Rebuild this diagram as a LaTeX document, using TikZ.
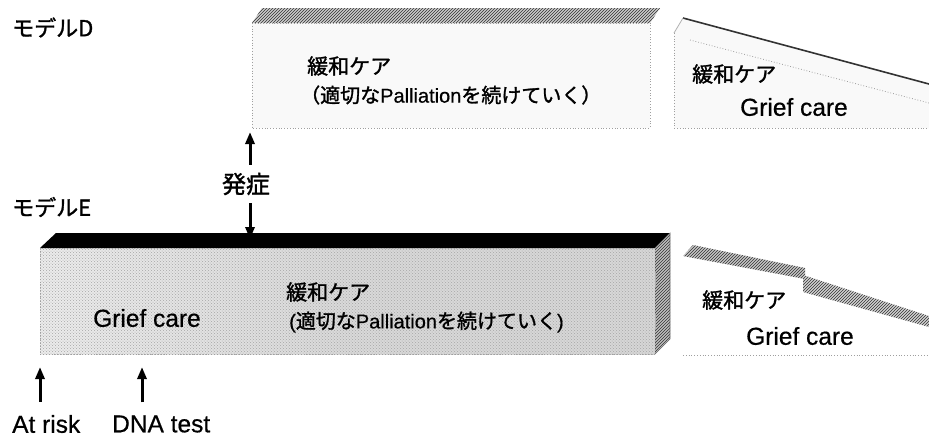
\documentclass[tikz,border=0pt]{standalone}
\usepackage{fontspec}
\setmainfont{Liberation Sans}[FakeBold=0.6]
\newfontfamily\jp{Noto Sans CJK JP}[FakeBold=1.4]
\usetikzlibrary{arrows.meta,patterns}
\begin{document}
\begin{tikzpicture}[x=1pt,y=-1pt,
  jpl/.style={font=\jp\fontsize{21}{21}\selectfont, inner sep=0pt, anchor=west},
  jps/.style={font=\fontsize{20}{20}\selectfont, inner sep=0pt, anchor=west},
  enl/.style={font=\fontsize{24.5}{24.5}\selectfont, inner sep=0pt, anchor=west},
  arr/.style={line width=3pt,-{Triangle[length=12pt,width=9pt]}},
  dotedge/.style={draw=gray!75,dotted,line width=0.8pt},
  stipple/.style={pattern=crosshatch dots, pattern color=gray!70},
  hatch/.style={pattern=north east lines, pattern color=black!80}]
\useasboundingbox (0,0) rectangle (929,440);

% ---------- Model D ----------
\node[jpl,font=\jp\fontsize{22}{22}\selectfont] (mD) at (12,27.5) {モデルD};
% main box D
\fill[gray!5] (252,23) rectangle (650,128);
\fill[gray!40] (252,23) -- (262,8) -- (660,8) -- (650,23) -- cycle;
\fill[hatch] (252,23) -- (262,8) -- (660,8) -- (650,23) -- cycle;
\draw[dotedge] (252,23) rectangle (650,128);
\node[jpl] (dk) at (307,66) {緩和ケア};
\node[jps] (dp) at (300,95) {{\jp （適切な}Palliation{\jp を続けていく）}};
% wedge D
\fill[gray!5] (674,33) -- (683,18) -- (929,84) -- (929,128) -- (674,128) -- cycle;
\draw[line width=1.6pt, black!80] (683,18) -- (929,84);
\draw[gray!60, line width=0.8pt] (674,33) -- (683,18);
\draw[dotedge] (674,33) -- (674,128) -- (929,128);
\draw[dotedge] (690,40) -- (929,103);
\node[jpl] (dk2) at (692,74) {緩和ケア};
\node[enl] (dg2) at (740,107) {Grief care};

% ---------- onset ----------
\node[font=\jp\fontsize{24}{24}\selectfont, inner sep=0pt] (hs) at (246,184) {発症};
\coordinate (dtop) at (250,132);
\coordinate (etop) at (250,239);
\draw[arr] ([yshift=8pt]hs.north -| dtop) -- (dtop);
\draw[arr] ([yshift=-8pt]hs.south -| etop) -- (etop);

% ---------- Model E ----------
\node[jpl,font=\jp\fontsize{22}{22}\selectfont] (mE) at (12,207) {モデルE};
\shade[left color=gray!15, right color=gray!32, middle color=gray!30] (40,248) rectangle (655,354);
\fill[stipple] (40,248) rectangle (655,354);
\fill[black] (40,248) -- (56,233) -- (670,233) -- (655,248) -- cycle;
\fill[gray!50] (655,248) -- (670,233) -- (670,339) -- (655,354) -- cycle;
\fill[hatch] (655,248) -- (670,233) -- (670,339) -- (655,354) -- cycle;
\draw[gray!80!black, line width=0.6pt] (655,248) -- (670,233) -- (670,339) -- (655,354);
\draw[dotedge] (40,248) rectangle (655,354);
\node[enl] (eg) at (93,318) {Grief care};
\node[jpl] (ek) at (286,292) {緩和ケア};
\node[jps] (ep) at (289,322) {({\jp 適切な}Palliation{\jp を続けていく})};
% wedge E (two stepped strips)
\fill[gray!45] (683,256) -- (693,245) -- (805,268) -- (805,279) -- cycle;
\fill[hatch] (683,256) -- (693,245) -- (805,268) -- (805,279) -- cycle;
\fill[gray!35] (803,275) -- (929,316) -- (929,327) -- (803,292) -- cycle;
\fill[hatch] (803,275) -- (929,316) -- (929,327) -- (803,292) -- cycle;
\draw[dotedge] (683,355) -- (929,355);
\node[jpl] (ek2) at (702,300) {緩和ケア};
\node[enl] (eg2) at (746,336) {Grief care};

% ---------- bottom ----------
\node[enl] (ar) at (12,424) {At risk};
\node[enl] (dna) at (112,424) {DNA test};
\coordinate (art) at (40,367);
\coordinate (dnt) at (142,367);
\draw[arr] ([yshift=13pt]ar.north -| art) -- (art);
\draw[arr] ([yshift=13pt]dna.north -| dnt) -- (dnt);
\end{tikzpicture}
\end{document}
